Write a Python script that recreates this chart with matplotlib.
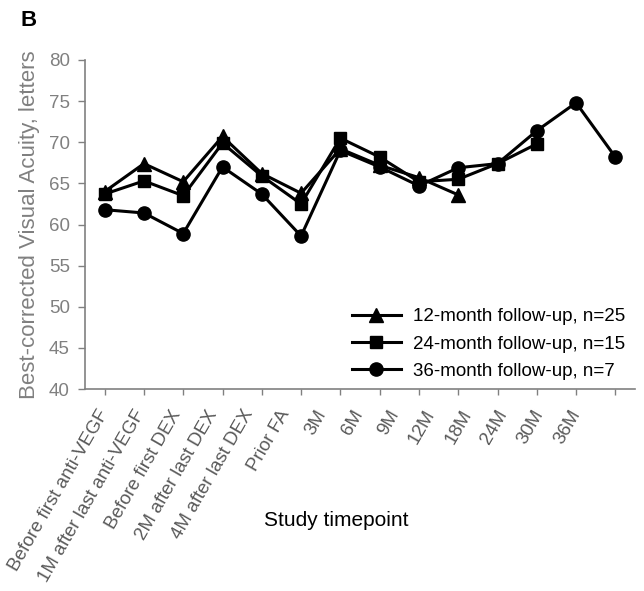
import matplotlib
matplotlib.use("Agg")
import matplotlib.pyplot as plt
from matplotlib.transforms import ScaledTranslation

plt.rcParams['font.family'] = ['Liberation Sans', 'DejaVu Sans']

# Study timepoints (x categories)
timepoints = ["Before first anti-VEGF", "1M after last anti-VEGF", "Before first DEX",
              "2M after last DEX", "4M after last DEX", "Prior FA",
              "3M", "6M", "9M", "12M", "18M", "24M", "30M", "36M"]

# Mean BCVA (letters) per follow-up cohort
bcva_12m = [64.0, 67.4, 65.2, 70.7, 66.2, 63.8, 69.2, 67.2, 65.7, 63.6]
bcva_24m = [63.7, 65.3, 63.5, 69.9, 65.9, 62.5, 70.5, 68.2, 65.2, 65.5, 67.4, 69.8]
bcva_36m = [61.8, 61.4, 58.9, 67.0, 63.7, 58.6, 69.0, 67.0, 64.7, 66.9, 67.4, 71.4, 74.8, 68.2]

series = [
    (bcva_12m, '^', 10, "12-month follow-up, n=25"),
    (bcva_24m, 's', 9, "24-month follow-up, n=15"),
    (bcva_36m, 'o', 9.5, "36-month follow-up, n=7"),
]

fig = plt.figure(figsize=(6.44, 5.91), dpi=100)
ax = fig.add_axes([85/644, 1 - 389/591, 550/644, 329/591])

for vals, mk, ms, lab in series:
    ax.plot(range(len(vals)), vals, color='black', lw=2.2, marker=mk,
            markersize=ms, label=lab)

gray = '#808080'
ax.set_xlim(-0.5, len(timepoints) - 0.5)
ax.set_ylim(40, 80)
ax.set_yticks(range(40, 81, 5))
ax.set_xticks(range(len(timepoints)))
ax.set_xticklabels(timepoints, rotation=60, ha='right', va='center',
                   rotation_mode='anchor', fontsize=13.5, color='#595959')

ax.tick_params(axis='y', labelsize=13.5, labelcolor=gray, color=gray,
               length=5, width=1, pad=6)
ax.tick_params(axis='x', color=gray, length=4, width=1, pad=12)

# labels drift a little to the left in the original (after tick_params, which resets transforms)
for i, t in enumerate(ax.get_xticklabels()):
    t.set_transform(t.get_transform() + ScaledTranslation(-0.03 * i, 0, fig.dpi_scale_trans))

for s in ['top', 'right']:
    ax.spines[s].set_visible(False)
for s in ['left', 'bottom']:
    ax.spines[s].set_color(gray)
    ax.spines[s].set_linewidth(1.2)

ax.set_ylabel("Best-corrected Visual Acuity, letters", fontsize=16, color=gray, labelpad=6)
fig.text(336/644, 1 - 520/591, "Study timepoint", fontsize=15, ha='center', va='center')
fig.text(20/644, 1 - 20/591, "B", fontsize=16, fontweight='bold', ha='left', va='center')

ax.legend(loc='upper left', bbox_to_anchor=(352/644, 1 - 308/591),
          bbox_transform=fig.transFigure, frameon=False, fontsize=13.5,
          handlelength=2.6, handletextpad=0.65, borderpad=0, borderaxespad=0,
          labelspacing=0.55)

fig.savefig("out.png", dpi=100)
